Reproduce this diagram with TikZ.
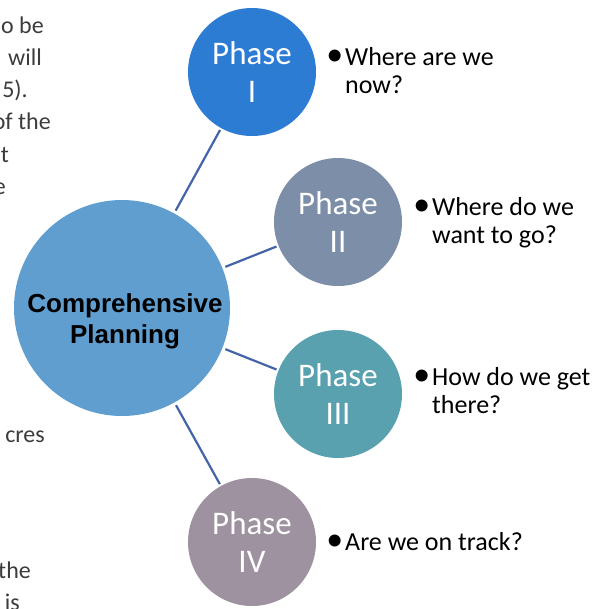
\documentclass[tikz,border=0pt]{standalone}
\usepackage{fontspec}
\setmainfont{Carlito}
\newfontfamily\hubfont{Liberation Sans}

\definecolor{hubblue}{RGB}{96,158,208}
\definecolor{phaseone}{RGB}{44,124,211}
\definecolor{phasetwo}{RGB}{124,142,168}
\definecolor{phasethree}{RGB}{89,161,175}
\definecolor{phasefour}{RGB}{158,145,160}
\definecolor{linkblue}{RGB}{68,100,170}
\definecolor{fragray}{RGB}{60,60,60}

\newcommand{\bul}{\llap{\raisebox{-0.5pt}{\scalebox{1.3}{\textbullet}}\hspace{2pt}}}

\tikzset{
  hub/.style={circle, fill=hubblue, minimum size=216pt, inner sep=0pt},
  phase/.style={circle, minimum size=128pt, inner sep=0pt, text=white,
    align=center, font=\fontsize{33}{38}\selectfont},
  link/.style={draw=linkblue, line width=2.2pt, shorten <=3pt, shorten >=2pt},
  bullettxt/.style={anchor=north west, inner sep=0pt, align=left,
    font=\fontsize{26}{28}\selectfont},
  cuttxt/.style={anchor=base east, inner sep=0pt, text=fragray,
    font=\fontsize{24}{33}\selectfont}
}

\begin{document}
\begin{tikzpicture}[x=1pt, y=-1pt]
  \useasboundingbox (0,0) rectangle (610,608);
  \clip (0,0) rectangle (610,608);

  % Centres
  \coordinate (c0) at (122,308);
  \coordinate (c1) at (252,72);
  \coordinate (c2) at (338,222);
  \coordinate (c3) at (338,394);
  \coordinate (c4) at (252,542);

  % Text cut off at the left edge
  \node[cuttxt] (f1) at (44,33) {o be};
  \node[cuttxt] (f2) at (42,65) {will};
  \node[cuttxt] (f3) at (28,97) {5).};
  \node[cuttxt] (f4) at (51,129) {of the};
  \node[cuttxt] (f5) at (9,162) {t};
  \node[cuttxt] (f6) at (6,194) {e};
  \node[cuttxt] (f7) at (45,442) {cres};
  \node[cuttxt] (f8) at (31,578) {the};
  \node[cuttxt] (f9) at (20,610) {is};

  % Circles
  \node[hub] (hub) at (c0) {};
  \node[font=\hubfont\bfseries\fontsize{26}{31}\selectfont, align=center,
    inner sep=0pt] (hublabel) at (125,321) {Comprehensive\\Planning};
  \node[phase, fill=phaseone] (p1) at (c1) {Phase\\I};
  \node[phase, fill=phasetwo] (p2) at (c2) {Phase\\II};
  \node[phase, fill=phasethree] (p3) at (c3) {Phase\\III};
  \node[phase, fill=phasefour] (p4) at (c4) {Phase\\IV};

  % Connectors
  \foreach \p in {p1,p2,p3,p4}
    \draw[link] (hub) -- (\p);

  % Questions
  \node[bullettxt] (q1) at (345,47) {\bul Where are we\\now?};
  \node[bullettxt] (q2) at (432,197) {\bul Where do we\\want to go?};
  \node[bullettxt] (q3) at (432,367) {\bul How do we get\\there?};
  \node[bullettxt] (q4) at (345,532) {\bul Are we on track?};
\end{tikzpicture}
\end{document}
